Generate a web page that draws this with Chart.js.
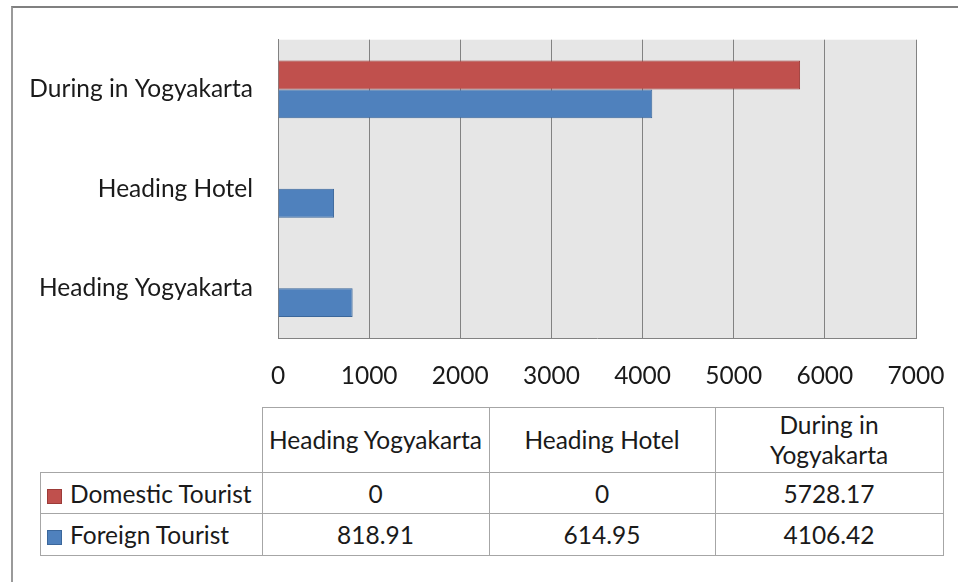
<!DOCTYPE html>
<html>
<head>
<meta charset="utf-8">
<script src="https://cdn.jsdelivr.net/npm/chart.js@4/dist/chart.umd.min.js"></script>
<style>
  html, body { margin: 0; padding: 0; background: #fff; }
  body { width: 958px; height: 582px; position: relative; overflow: hidden; font-family: Lato, "Liberation Sans", sans-serif; }
  #frame { position: absolute; left: 11px; top: 6px; width: 1000px; height: 700px; border-top: 2px solid #808080; border-left: 2px solid #9a9a9a; }
  #chart { position: absolute; left: 0; top: 0; }
  #dataTable { position: absolute; left: 40px; top: 407px; border-collapse: collapse; font-size: 24.5px; color: #1a1a1a; }
  #dataTable td { border: 1px solid #a6a6a6; text-align: center; padding: 0; }
  #dataTable td.name { text-align: left; padding-left: 6px; white-space: nowrap; }
  #dataTable td.blank { border: none; border-right: 1px solid #a6a6a6; border-bottom: 1px solid #a6a6a6; }
  .key { display: inline-block; width: 15px; height: 15px; margin-right: 8px; vertical-align: -1px; box-sizing: border-box; }
</style>
</head>
<body>
<div id="frame"></div>
<canvas id="chart" width="958" height="400"></canvas>
<table id="dataTable"></table>
<script>
const categories = ["Heading Yogyakarta", "Heading Hotel", "During in Yogyakarta"];
const tableHeaders = ["Heading Yogyakarta", "Heading Hotel", "During in<br>Yogyakarta"];
const seriesNames = ["Domestic Tourist", "Foreign Tourist"];
const domestic = [0, 0, 5728.17];
const foreign = [818.91, 614.95, 4106.42];
const xTicks = [0, 1000, 2000, 3000, 4000, 5000, 6000, 7000];

const fillColors = ["#c0504d", "#4f81bd"];
const edgeColors = ["#9c3b38", "#3b679b"];
const font = { family: "Lato, 'Liberation Sans', sans-serif", size: 24.5 };

const plotBg = {
  id: "plotBg",
  beforeDraw(chart) {
    const a = chart.chartArea;
    const ctx = chart.ctx;
    ctx.save();
    ctx.fillStyle = "#e6e6e6";
    ctx.fillRect(a.left, a.top, a.right - a.left, a.bottom - a.top);
    ctx.restore();
  }
};

new Chart(document.getElementById("chart"), {
  type: "bar",
  data: {
    labels: categories,
    datasets: [
      { label: seriesNames[0], data: domestic, backgroundColor: fillColors[0], borderColor: edgeColors[0], borderWidth: 1 },
      { label: seriesNames[1], data: foreign, backgroundColor: fillColors[1], borderColor: edgeColors[1], borderWidth: 1 }
    ]
  },
  options: {
    indexAxis: "y",
    responsive: false,
    animation: false,
    layout: { padding: { left: 0, top: 34, right: 42, bottom: 0 } },
    plugins: { legend: { display: false }, tooltip: { enabled: false } },
    datasets: { bar: { barPercentage: 1, categoryPercentage: 0.58 } },
    scales: {
      x: {
        min: xTicks[0],
        max: xTicks[xTicks.length - 1],
        afterBuildTicks(scale) { scale.ticks = xTicks.map(v => ({ value: v })); },
        afterFit(scale) { scale.height = 62; scale.paddingLeft = 0; scale.paddingRight = 0; },
        grid: { color: "#828282", lineWidth: 1, drawTicks: false },
        border: { display: true, color: "#828282" },
        ticks: { color: "#1a1a1a", font: font, padding: 23, maxRotation: 0, callback: v => String(v) }
      },
      y: {
        reverse: true,
        afterFit(scale) { scale.width = 278; },
        grid: { display: false, drawTicks: false },
        border: { display: true, color: "#828282" },
        ticks: { color: "#1a1a1a", font: font, padding: 25 }
      }
    }
  },
  plugins: [plotBg]
});

// data table under the chart
const table = document.getElementById("dataTable");
const colWidths = [221, 226, 225, 227];
let html = "<tr style='height:65px'><td class='blank' style='width:" + colWidths[0] + "px'></td>";
tableHeaders.forEach((h, i) => { html += "<td style='width:" + colWidths[i + 1] + "px;line-height:30px'>" + h + "</td>"; });
html += "</tr>";
[domestic, foreign].forEach((vals, s) => {
  html += "<tr style='height:" + (s === 0 ? 41 : 42) + "px'><td class='name'><span class='key' style='background:" + fillColors[s] + ";border:1px solid " + edgeColors[s] + "'></span>" + seriesNames[s] + "</td>";
  vals.forEach(v => { html += "<td>" + v + "</td>"; });
  html += "</tr>";
});
table.innerHTML = html;
</script>
</body>
</html>
